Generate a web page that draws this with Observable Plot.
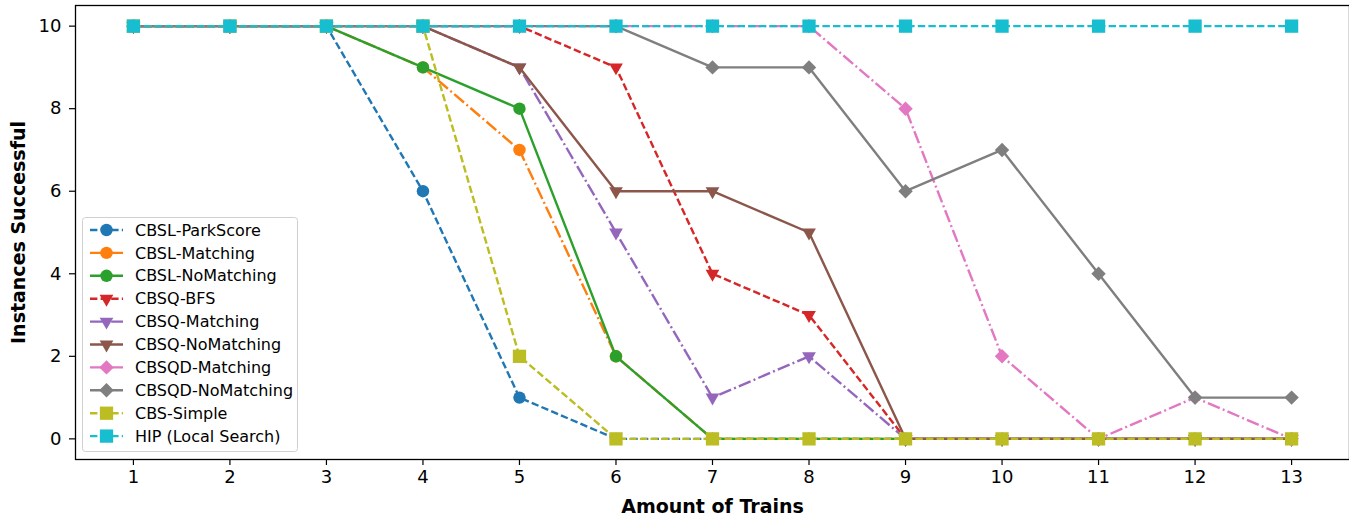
<!DOCTYPE html>
<html>
<head>
<meta charset="utf-8">
<script src="https://cdn.jsdelivr.net/npm/d3@7"></script>
<script src="https://cdn.jsdelivr.net/npm/@observablehq/plot@0.6"></script>
<style>
  html, body { margin: 0; padding: 0; background: white; }
  #wrap { position: relative; width: 1349px; height: 515px; font-family: "DejaVu Sans", sans-serif; }
  #legend { position: absolute; left: 82px; top: 217px; }
</style>
</head>
<body>
<div id="wrap"><div id="chart"></div><div id="legend"></div></div>
<script>
// ---- data ----
const trains = [1, 2, 3, 4, 5, 6, 7, 8, 9, 10, 11, 12, 13];
const xTicks = [1, 2, 3, 4, 5, 6, 7, 8, 9, 10, 11, 12, 13];
const yTicks = [0, 2, 4, 6, 8, 10];

const seriesNames = ["CBSL-ParkScore", "CBSL-Matching", "CBSL-NoMatching", "CBSQ-BFS", "CBSQ-Matching",
  "CBSQ-NoMatching", "CBSQD-Matching", "CBSQD-NoMatching", "CBS-Simple", "HIP (Local Search)"];

const cbslParkScore   = [10, 10, 10, 6, 1, 0, 0, 0, 0, 0, 0, 0, 0];
const cbslMatching    = [10, 10, 10, 9, 7, 2, 0, 0, 0, 0, 0, 0, 0];
const cbslNoMatching  = [10, 10, 10, 9, 8, 2, 0, 0, 0, 0, 0, 0, 0];
const cbsqBFS         = [10, 10, 10, 10, 10, 9, 4, 3, 0, 0, 0, 0, 0];
const cbsqMatching    = [10, 10, 10, 10, 9, 5, 1, 2, 0, 0, 0, 0, 0];
const cbsqNoMatching  = [10, 10, 10, 10, 9, 6, 6, 5, 0, 0, 0, 0, 0];
const cbsqdMatching   = [10, 10, 10, 10, 10, 10, 10, 10, 8, 2, 0, 1, 0];
const cbsqdNoMatching = [10, 10, 10, 10, 10, 10, 9, 9, 6, 7, 4, 1, 1];
const cbsSimple       = [10, 10, 10, 10, 2, 0, 0, 0, 0, 0, 0, 0, 0];
const hipLocalSearch  = [10, 10, 10, 10, 10, 10, 10, 10, 10, 10, 10, 10, 10];

const seriesValues = [cbslParkScore, cbslMatching, cbslNoMatching, cbsqBFS, cbsqMatching,
  cbsqNoMatching, cbsqdMatching, cbsqdNoMatching, cbsSimple, hipLocalSearch];

// ---- styles ----
const colors = ["#1f77b4", "#ff7f0e", "#2ca02c", "#d62728", "#9467bd", "#8c564b", "#e377c2", "#7f7f7f", "#bcbd22", "#17becf"];
const DASH = "7.4,3.2", DASHDOT = "12.8,3.2,2,3.2", SOLID = null;
const dashes = [DASH, DASHDOT, SOLID, DASH, DASHDOT, SOLID, DASHDOT, SOLID, DASH, DASH];
const symbols = ["circle", "circle", "circle", "triangle", "triangle", "triangle", "diamond2", "diamond2", "square", "square"];
const rotations = [0, 0, 0, 180, 180, 180, 0, 0, 0, 0];
const radii = [6.2, 6.2, 6.2, 5.1, 5.1, 5.1, 6.5, 6.5, 7.5, 7.5];

const rows = [];
seriesNames.forEach((name, i) => {
  seriesValues[i].forEach((v, j) => rows.push({series: name, idx: i, trains: trains[j], value: v}));
});

const marks = [];
seriesNames.forEach((name, i) => {
  const d = rows.filter(r => r.idx === i);
  marks.push(Plot.line(d, {x: "trains", y: "value", stroke: colors[i], strokeWidth: 2.4,
    strokeDasharray: dashes[i], strokeLinecap: "butt", strokeLinejoin: "round"}));
  marks.push(Plot.dot(d, {x: "trains", y: "value", fill: colors[i], stroke: "none",
    symbol: symbols[i], r: radii[i], rotate: rotations[i]}));
});

const chart = Plot.plot({
  width: 1349,
  height: 515,
  marginLeft: 75,
  marginTop: 5,
  marginBottom: 56,
  marginRight: 0,
  style: {fontFamily: "DejaVu Sans", fontSize: "18px", color: "#000", background: "white", overflow: "visible"},
  x: {domain: [0.4, 13.6]},
  y: {domain: [-0.5, 10.5]},
  marks: [
    Plot.axisX({ticks: xTicks, tickFormat: d => String(d), tickSize: 6, tickPadding: 5, label: null, fontSize: 18, strokeWidth: 1.2}),
    Plot.axisY({ticks: yTicks, tickFormat: d => String(d), tickSize: 6, tickPadding: 8, label: null, fontSize: 18, strokeWidth: 1.2}),
    ...marks,
    Plot.frame({stroke: "#000", strokeWidth: 1.3}),
    Plot.text(["Amount of Trains"], {frameAnchor: "bottom", dy: 47, lineAnchor: "middle", textAnchor: "middle", fontWeight: "bold", fontSize: 19}),
    Plot.text(["Instances Successful"], {frameAnchor: "left", dx: -57, rotate: -90, lineAnchor: "middle", textAnchor: "middle", fontWeight: "bold", fontSize: 19})
  ]
});
document.getElementById("chart").appendChild(chart);

// ---- legend ----
const lw = 215, lh = 234, rowH = 22.9;
const leg = d3.select("#legend").append("svg").attr("width", lw + 2).attr("height", lh + 2)
  .style("font-family", "DejaVu Sans").style("font-size", "16px");
leg.append("rect").attr("x", 0.5).attr("y", 0.5).attr("width", lw).attr("height", lh)
  .attr("rx", 3).attr("fill", "rgba(255,255,255,0.8)").attr("stroke", "#d0d0d0");
const symMap = {circle: d3.symbolCircle, triangle: d3.symbolTriangle, diamond2: d3.symbolDiamond2, square: d3.symbolSquare};
seriesNames.forEach((name, i) => {
  const cy = 13 + i * rowH;
  const g = leg.append("g").attr("transform", `translate(0,${cy})`);
  g.append("line").attr("x1", 8).attr("x2", 41).attr("y1", 0).attr("y2", 0)
    .attr("stroke", colors[i]).attr("stroke-width", 2.4)
    .attr("stroke-dasharray", dashes[i]).attr("stroke-linecap", "butt");
  g.append("path").attr("d", d3.symbol(symMap[symbols[i]], Math.PI * radii[i] * radii[i])())
    .attr("transform", `translate(24.5,0) rotate(${rotations[i]})`).attr("fill", colors[i]);
  g.append("text").attr("x", 53).attr("y", 0).attr("dy", "0.35em").attr("fill", "#000").text(name);
});
</script>
</body>
</html>
